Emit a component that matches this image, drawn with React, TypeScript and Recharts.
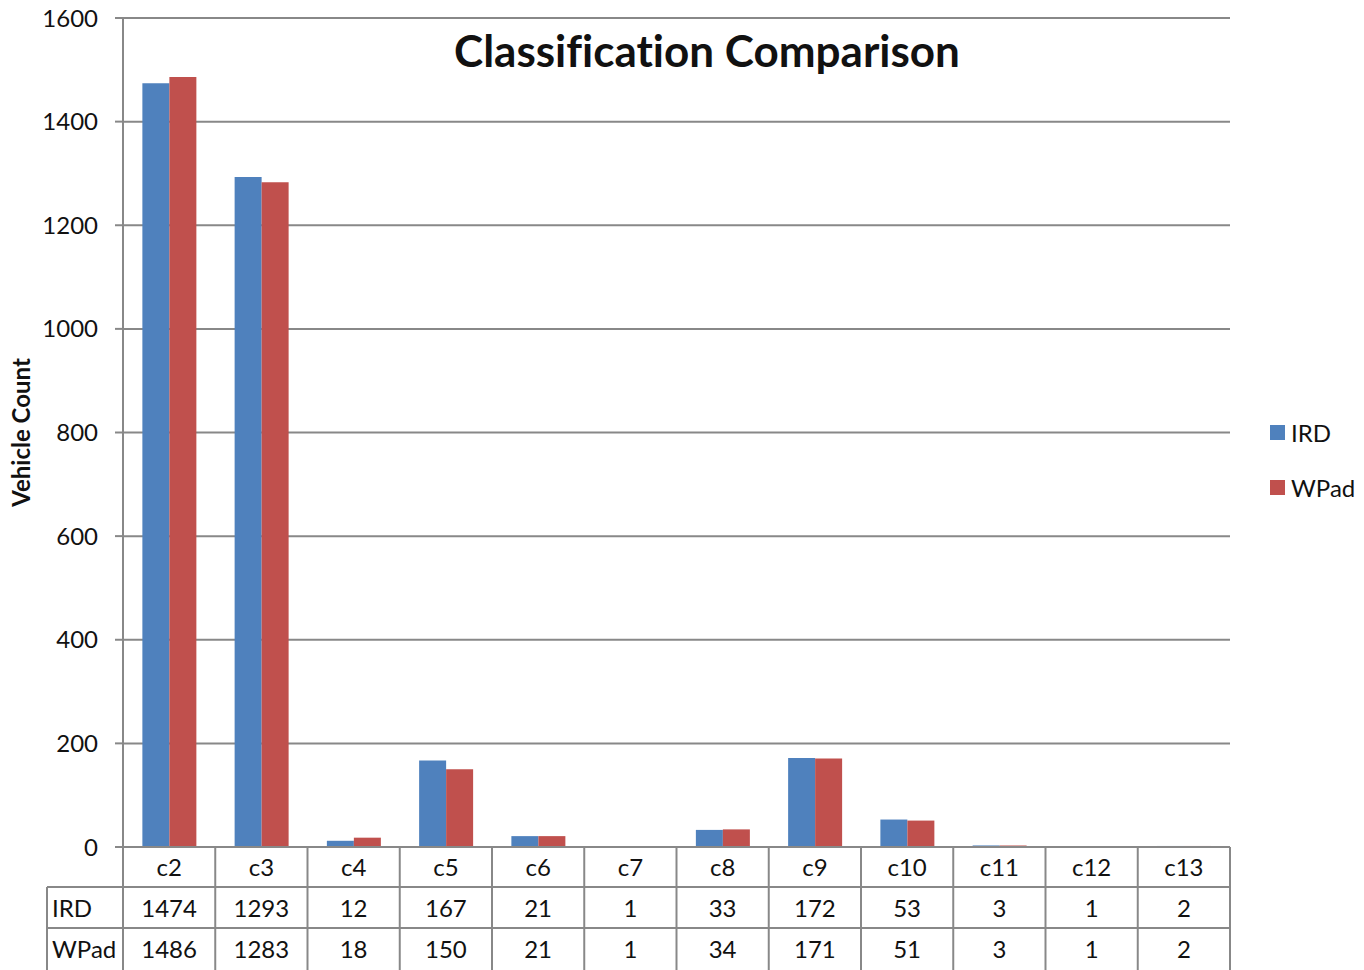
import React from 'react';
import { BarChart, Bar, XAxis, YAxis, CartesianGrid } from 'recharts';

const classes = ['c2', 'c3', 'c4', 'c5', 'c6', 'c7', 'c8', 'c9', 'c10', 'c11', 'c12', 'c13'];
const irdCounts = [1474, 1293, 12, 167, 21, 1, 33, 172, 53, 3, 1, 2];
const wpadCounts = [1486, 1283, 18, 150, 21, 1, 34, 171, 51, 3, 1, 2];
const yTicks = [0, 200, 400, 600, 800, 1000, 1200, 1400, 1600];

const W = 1364;
const H = 970;
const PLOT_LEFT = 123;
const PLOT_RIGHT = 1230;
const PLOT_TOP = 18;
const PLOT_BOTTOM = 847;
const ROW1 = 887;
const ROW2 = 928;
const LABEL_COL = 47;
const BAND = (PLOT_RIGHT - PLOT_LEFT) / classes.length;

const FONT = 'Lato, "Open Sans", sans-serif';
const GRID = '#888888';
const BLUE = '#4F81BD';
const RED = '#C0504D';

const chartData = classes.map((c, i) => ({ name: c, IRD: irdCounts[i], WPad: wpadCounts[i] }));

// x-axis tick that also draws the data table column under each class
const TableTick = (props: any) => {
  const { x, payload } = props;
  const i = classes.indexOf(payload.value);
  const left = x - BAND / 2;
  const right = x + BAND / 2;
  const line = { stroke: GRID, strokeWidth: 2 };
  const txt = { fontFamily: FONT, fontSize: 24, fill: '#111', textAnchor: 'middle' as const };
  return (
    <g>
      <line x1={left} y1={PLOT_BOTTOM} x2={left} y2={H} {...line} />
      {i === classes.length - 1 && <line x1={right} y1={PLOT_BOTTOM} x2={right} y2={H} {...line} />}
      <line x1={left} y1={ROW1} x2={right} y2={ROW1} {...line} />
      <line x1={left} y1={ROW2} x2={right} y2={ROW2} {...line} />
      <text x={x} y={876} {...txt}>{payload.value}</text>
      <text x={x} y={917} {...txt}>{irdCounts[i]}</text>
      <text x={x} y={958} {...txt}>{wpadCounts[i]}</text>
      {i === 0 && (
        <g>
          <line x1={LABEL_COL} y1={ROW1} x2={LABEL_COL} y2={H} {...line} />
          <line x1={LABEL_COL} y1={ROW1} x2={PLOT_LEFT} y2={ROW1} {...line} />
          <line x1={LABEL_COL} y1={ROW2} x2={PLOT_LEFT} y2={ROW2} {...line} />
          <text x={52} y={917} {...txt} textAnchor="start">IRD</text>
          <text x={52} y={958} {...txt} textAnchor="start">WPad</text>
        </g>
      )}
    </g>
  );
};

const YLabel = () => (
  <text
    x={30}
    y={(PLOT_TOP + PLOT_BOTTOM) / 2}
    transform={`rotate(-90, 30, ${(PLOT_TOP + PLOT_BOTTOM) / 2})`}
    textAnchor="middle"
    style={{ fontFamily: FONT, fontSize: 24, fontWeight: 700, fill: '#111' }}
  >
    Vehicle Count
  </text>
);

export default function App() {
  return (
    <div style={{ position: 'absolute', left: 0, top: 0, width: W, height: H, background: '#fff' }}>
      <BarChart
        width={W}
        height={H}
        data={chartData}
        margin={{ top: PLOT_TOP, right: W - PLOT_RIGHT, left: 0, bottom: 0 }}
        barCategoryGap="21%"
        barGap={0}
      >
        <CartesianGrid vertical={false} stroke={GRID} strokeWidth={2} />
        <XAxis
          dataKey="name"
          height={H - PLOT_BOTTOM}
          axisLine={{ stroke: GRID, strokeWidth: 2 }}
          tickLine={false}
          interval={0}
          tick={<TableTick />}
        />
        <YAxis
          width={PLOT_LEFT}
          domain={[0, 1600]}
          ticks={yTicks}
          interval={0}
          tickSize={8}
          tickMargin={17}
          axisLine={{ stroke: GRID, strokeWidth: 2 }}
          tickLine={{ stroke: GRID, strokeWidth: 2 }}
          tick={{ fontFamily: FONT, fontSize: 24, fill: '#111' }}
          label={<YLabel />}
        />
        <Bar dataKey="IRD" fill={BLUE} isAnimationActive={false} />
        <Bar dataKey="WPad" fill={RED} isAnimationActive={false} />
      </BarChart>

      <div
        style={{
          position: 'absolute',
          left: 452,
          width: 510,
          top: 24,
          textAlign: 'center',
          fontFamily: FONT,
          fontWeight: 700,
          fontSize: 44,
          color: '#111',
          whiteSpace: 'nowrap',
          fontVariantLigatures: 'none',
        }}
      >
        Classification Comparison
      </div>

      {[
        { name: 'IRD', color: BLUE, top: 418 },
        { name: 'WPad', color: RED, top: 473 },
      ].map((item) => (
        <div
          key={`legend-${item.name}`}
          style={{
            position: 'absolute',
            left: 1270,
            top: item.top,
            display: 'flex',
            alignItems: 'center',
            fontFamily: FONT,
            fontSize: 24,
            color: '#111',
          }}
        >
          <div style={{ width: 15, height: 15, background: item.color, marginRight: 6 }} />
          <span>{item.name}</span>
        </div>
      ))}
    </div>
  );
}
